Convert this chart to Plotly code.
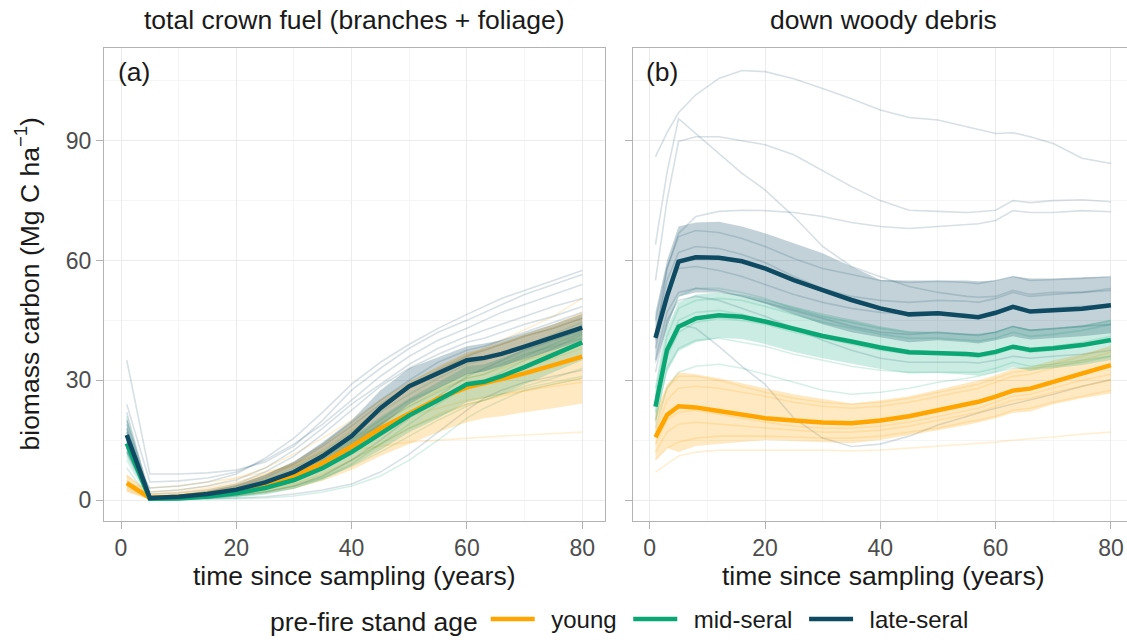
import plotly.graph_objects as go

# ---------------- data ----------------
XA = [1, 5, 10, 15, 20, 25, 30, 35, 40, 45, 50, 55, 60, 63, 66, 70, 75, 80]
XB = [1, 3, 5, 8, 12, 16, 20, 25, 30, 35, 40, 45, 50, 55, 57, 60, 63, 66, 70, 75, 80]

groups = ["young", "mid-seral", "late-seral"]
colors = {"young": "#FFA500", "mid-seral": "#0AA674", "late-seral": "#0E4A62"}
rgb = {"young": "255,165,0", "mid-seral": "10,166,116", "late-seral": "14,74,98"}
ribbon_alpha = {"young": 0.24, "mid-seral": 0.21, "late-seral": 0.25}

# panel (a): total crown fuel - group means and ribbons
young_a = [4.2, 0.5, 0.8, 1.5, 2.5, 4.0, 6.0, 9.3, 13.4, 17.9, 21.7, 25.4, 28.2, 29.2, 30.2, 31.7, 33.8, 35.9]
mid_a = [14.2, 0.3, 0.4, 0.9, 1.7, 3.0, 5.0, 8.0, 12.0, 16.6, 21.2, 25.0, 29.0, 29.6, 31.0, 33.3, 36.3, 39.5]
late_a = [16.3, 0.5, 0.8, 1.5, 2.6, 4.4, 7.0, 11.0, 16.0, 23.0, 28.5, 31.8, 35.0, 35.6, 36.6, 38.4, 40.7, 43.2]

young_a_lo = [2.0, 0.1, 0.3, 0.6, 1.0, 1.7, 2.8, 4.8, 7.5, 11.0, 14.0, 17.0, 19.5, 20.5, 21.0, 22.0, 23.0, 24.2]
young_a_hi = [6.5, 1.5, 1.8, 2.8, 4.2, 6.5, 9.5, 14.0, 19.5, 25.0, 29.5, 33.5, 37.0, 38.0, 39.5, 41.5, 44.0, 47.0]
mid_a_lo = [10.5, 0.1, 0.2, 0.4, 0.8, 1.5, 2.8, 5.0, 8.5, 12.5, 17.0, 20.5, 24.5, 25.5, 26.5, 29.0, 32.0, 35.0]
mid_a_hi = [18.0, 0.6, 0.8, 1.5, 2.7, 4.6, 7.3, 11.0, 15.6, 20.8, 25.5, 29.5, 33.5, 34.0, 35.5, 37.8, 40.6, 44.0]
late_a_lo = [12.0, 0.2, 0.4, 0.8, 1.5, 2.6, 4.5, 7.5, 12.0, 18.5, 24.0, 28.0, 31.5, 32.2, 33.5, 35.2, 37.5, 40.0]
late_a_hi = [20.5, 1.0, 1.3, 2.3, 3.8, 6.3, 9.5, 14.5, 20.0, 27.5, 33.0, 35.8, 38.5, 39.2, 40.0, 41.8, 44.0, 46.6]

# panel (a): individual stands
young_a_stands = [
    [4.0, 3.0, 3.5, 4.5, 5.5, 7.0, 8.5, 10.0, 12.5, 13.5, 14.5, 15.0, 15.5, 15.8, 16.0, 16.3, 16.6, 17.0],
    [5.0, 0.8, 1.2, 2.0, 3.5, 5.5, 8.5, 12.5, 17.5, 23.0, 28.0, 32.0, 36.0, 38.0, 40.0, 42.5, 46.0, 50.5],
    [3.0, 0.5, 0.8, 1.5, 2.5, 4.0, 6.5, 10.0, 14.5, 19.0, 23.5, 27.5, 30.5, 31.5, 33.0, 35.0, 37.0, 39.5],
    [4.5, 1.5, 2.0, 3.0, 4.5, 6.5, 9.0, 12.0, 15.5, 18.5, 21.0, 23.0, 25.0, 25.8, 26.5, 27.5, 28.5, 29.5],
    [3.5, 0.3, 0.5, 1.0, 2.0, 3.0, 5.0, 8.0, 12.0, 16.5, 21.0, 25.0, 28.0, 29.5, 31.0, 33.0, 35.5, 38.0],
    [2.5, 0.2, 0.4, 0.8, 1.5, 2.5, 4.0, 6.5, 10.0, 14.0, 18.0, 21.5, 24.0, 25.0, 26.0, 27.5, 29.0, 30.5],
    [6.0, 2.0, 2.5, 3.5, 5.5, 8.0, 11.5, 15.5, 20.0, 25.0, 29.5, 33.0, 36.5, 37.5, 39.0, 41.0, 43.0, 45.5],
]
mid_a_stands = [
    [14.0, 0.1, 0.2, 0.4, 0.8, 1.5, 3.0, 5.5, 9.0, 14.0, 19.0, 24.0, 28.5, 30.0, 32.0, 35.0, 38.0, 41.5],
    [19.0, 0.5, 0.8, 1.5, 3.0, 5.0, 8.0, 12.0, 17.0, 22.0, 26.5, 30.5, 34.0, 35.0, 36.5, 38.5, 41.5, 44.5],
    [10.0, 0.2, 0.3, 0.5, 1.0, 2.0, 3.5, 6.0, 10.0, 14.0, 18.0, 21.0, 24.0, 25.0, 26.5, 28.0, 29.5, 31.0],
    [12.0, 0.1, 0.1, 0.2, 0.3, 0.5, 1.0, 2.0, 3.5, 6.0, 10.0, 15.0, 20.5, 23.0, 25.0, 27.5, 29.0, 30.5],
    [16.0, 0.3, 0.5, 1.0, 2.0, 3.5, 6.0, 9.5, 14.0, 19.0, 23.5, 27.0, 30.5, 31.5, 33.5, 36.0, 39.0, 42.0],
    [8.0, 0.1, 0.2, 0.5, 1.0, 2.0, 3.5, 5.5, 8.5, 12.0, 16.0, 20.0, 23.5, 25.0, 26.5, 28.5, 30.5, 33.0],
    [21.0, 0.4, 0.6, 1.2, 2.5, 4.5, 7.0, 10.5, 15.0, 20.0, 25.0, 28.0, 31.5, 32.5, 34.0, 36.5, 38.5, 40.5],
]
late_a_stands = [
    [13.0, 3.0, 3.5, 4.5, 6.5, 10.5, 15.5, 22.0, 29.0, 34.5, 39.0, 43.0, 46.5, 48.5, 50.5, 52.5, 55.0, 57.5],
    [35.0, 6.5, 6.5, 6.8, 7.5, 9.5, 13.5, 20.0, 27.5, 33.0, 38.0, 42.0, 45.0, 47.0, 49.0, 51.5, 54.0, 56.5],
    [24.0, 4.5, 4.8, 5.5, 7.0, 10.0, 14.0, 19.0, 25.0, 31.0, 36.0, 40.0, 43.0, 45.0, 47.0, 49.0, 51.5, 54.0],
    [20.0, 2.0, 2.5, 3.5, 5.0, 8.0, 12.5, 18.0, 24.0, 29.0, 34.0, 38.0, 41.0, 42.5, 44.0, 46.0, 48.5, 50.5],
    [17.0, 1.0, 1.2, 2.0, 3.5, 6.0, 9.5, 14.0, 19.5, 25.0, 30.0, 34.5, 37.5, 38.5, 40.0, 42.0, 44.5, 47.0],
    [22.0, 0.5, 0.8, 1.5, 3.0, 5.5, 9.0, 13.5, 18.5, 24.0, 28.5, 32.5, 36.0, 37.5, 39.0, 41.0, 43.0, 45.5],
    [15.0, 0.2, 0.3, 0.6, 1.2, 2.0, 3.5, 6.0, 10.0, 15.0, 20.5, 26.0, 31.0, 33.0, 35.0, 37.5, 40.0, 42.5],
    [12.0, 0.1, 0.2, 0.3, 0.5, 0.8, 1.5, 2.5, 4.0, 7.0, 11.5, 17.0, 22.5, 25.5, 27.5, 29.5, 31.0, 32.5],
    [18.0, 1.5, 1.8, 2.5, 4.0, 7.0, 11.0, 16.5, 22.5, 28.5, 33.0, 36.5, 39.5, 40.5, 42.0, 44.0, 46.0, 48.5],
]

# panel (b): down woody debris - group means and ribbons
young_b = [15.7, 21.3, 23.5, 23.2, 22.3, 21.3, 20.5, 19.9, 19.4, 19.2, 19.9, 21.0, 22.5, 24.0, 24.6, 25.9, 27.4, 27.9, 29.6, 31.6, 33.8]
mid_b = [23.4, 37.6, 43.4, 45.5, 46.3, 45.9, 44.7, 42.8, 41.1, 39.7, 38.2, 37.0, 36.9, 36.6, 36.3, 37.1, 38.4, 37.6, 38.0, 38.8, 40.1]
late_b = [40.6, 51.0, 59.7, 60.8, 60.7, 59.8, 58.0, 55.1, 52.6, 50.1, 48.0, 46.5, 46.8, 46.1, 45.8, 46.9, 48.4, 47.2, 47.6, 47.9, 48.8]

young_b_lo = [10.0, 13.0, 12.0, 13.5, 14.0, 14.5, 15.0, 14.8, 14.5, 14.2, 15.0, 16.2, 17.5, 18.8, 19.4, 20.5, 21.8, 22.2, 24.0, 25.5, 26.7]
young_b_hi = [22.0, 29.0, 32.0, 31.5, 30.5, 29.2, 28.0, 26.5, 25.3, 24.2, 25.0, 26.0, 27.6, 29.3, 30.0, 31.3, 32.8, 33.4, 35.0, 36.6, 38.4]
mid_b_lo = [19.0, 32.0, 37.3, 39.5, 40.6, 40.3, 39.1, 37.1, 35.5, 34.2, 32.8, 31.7, 31.8, 31.4, 31.1, 32.0, 33.3, 32.4, 33.0, 33.8, 35.1]
mid_b_hi = [28.0, 43.0, 49.5, 51.5, 52.0, 51.5, 50.3, 48.5, 46.7, 45.2, 43.5, 42.3, 42.0, 41.8, 41.5, 42.2, 43.5, 42.8, 43.0, 43.8, 45.1]
late_b_lo = [34.0, 43.0, 51.0, 52.0, 52.0, 51.0, 49.2, 46.5, 44.0, 42.0, 40.8, 39.5, 40.0, 39.5, 39.2, 40.0, 41.0, 40.2, 40.5, 41.0, 41.8]
late_b_hi = [47.0, 60.0, 68.5, 69.5, 69.7, 68.5, 66.8, 64.3, 61.8, 58.5, 55.1, 55.0, 55.0, 55.0, 54.8, 55.0, 56.0, 55.5, 55.5, 55.8, 55.9]

# panel (b): individual stands
young_b_stands = [
    [7.0, 9.0, 11.0, 12.0, 12.5, 12.5, 12.5, 12.5, 12.5, 12.3, 12.5, 13.0, 13.5, 14.0, 14.2, 14.5, 15.0, 15.3, 15.8, 16.5, 17.0],
    [10.0, 13.0, 14.5, 15.5, 16.0, 16.0, 16.0, 15.8, 15.5, 15.5, 16.0, 17.0, 18.0, 19.5, 20.0, 21.0, 22.5, 23.0, 24.5, 26.0, 27.5],
    [14.0, 20.0, 22.0, 22.5, 21.5, 20.5, 19.5, 18.5, 18.0, 18.0, 18.5, 19.5, 21.0, 22.5, 23.0, 24.5, 26.0, 26.5, 28.0, 30.0, 31.5],
    [17.0, 25.0, 28.0, 28.5, 28.0, 27.0, 26.0, 24.5, 23.5, 23.0, 23.5, 24.5, 26.0, 27.5, 28.0, 29.5, 31.0, 31.5, 33.0, 35.0, 37.0],
    [12.0, 17.0, 19.0, 19.5, 19.0, 18.5, 18.0, 17.5, 17.0, 17.0, 17.5, 18.5, 20.0, 21.5, 22.0, 23.5, 25.0, 25.5, 27.0, 28.5, 30.0],
    [20.0, 28.0, 31.0, 31.0, 30.0, 28.5, 27.0, 25.5, 24.5, 24.0, 24.5, 25.5, 27.0, 28.5, 29.0, 30.5, 32.0, 32.5, 34.0, 36.0, 38.5],
]
mid_b_stands = [
    [22.0, 36.0, 42.0, 44.5, 45.5, 45.0, 44.0, 42.0, 40.5, 39.0, 37.5, 36.5, 36.5, 36.0, 35.8, 36.5, 38.0, 37.0, 37.5, 38.5, 40.0],
    [26.0, 41.0, 48.0, 50.0, 50.5, 50.0, 48.5, 46.5, 44.5, 43.0, 41.5, 40.5, 40.5, 40.0, 39.8, 40.5, 42.0, 41.0, 41.5, 42.5, 44.0],
    [20.0, 33.0, 38.0, 40.0, 40.5, 39.5, 38.5, 36.5, 35.0, 33.5, 32.5, 32.0, 32.0, 32.0, 32.0, 33.0, 34.5, 33.5, 34.0, 35.0, 36.0],
    [24.0, 38.0, 45.0, 47.0, 47.5, 46.5, 45.0, 43.0, 41.0, 39.5, 38.5, 37.5, 37.0, 36.8, 36.5, 37.5, 38.5, 38.0, 38.5, 39.5, 41.0],
    [18.0, 28.0, 32.0, 33.5, 34.0, 33.0, 31.5, 29.5, 27.5, 26.5, 27.0, 28.0, 29.5, 30.5, 31.0, 32.0, 33.0, 33.0, 33.5, 34.5, 36.0],
    [28.0, 44.0, 51.0, 53.0, 53.0, 52.0, 50.5, 48.0, 46.0, 44.5, 43.0, 42.0, 42.0, 41.5, 41.5, 42.0, 43.5, 42.5, 43.0, 43.5, 45.0],
]
late_b_stands = [
    [86.0, 92.0, 97.0, 101.5, 105.6, 107.6, 107.3, 105.5, 103.1, 100.5, 97.7, 95.8, 95.2, 93.5, 93.0, 91.8, 92.0, 91.0, 89.3, 85.6, 84.3],
    [64.0, 82.0, 95.5, 91.8, 86.8, 81.8, 77.7, 71.0, 63.5, 58.5, 55.9, 53.5, 52.0, 51.0, 50.8, 51.0, 52.5, 51.5, 52.0, 52.0, 53.0],
    [55.0, 75.0, 89.8, 91.0, 91.0, 90.0, 89.0, 86.5, 82.5, 78.5, 75.0, 72.6, 72.3, 72.0, 72.2, 72.6, 75.0, 74.5, 75.0, 75.2, 74.7],
    [40.0, 58.0, 66.8, 71.0, 72.3, 72.6, 72.5, 72.0, 71.0, 69.5, 68.5, 68.0, 68.5, 69.0, 69.2, 70.0, 72.5, 72.0, 72.0, 72.5, 72.2],
    [25.0, 38.0, 44.0, 43.0, 38.5, 33.5, 29.0, 20.5, 15.5, 13.4, 14.0, 16.0, 18.8, 21.0, 21.8, 23.0, 24.0, 25.0, 26.5, 28.5, 30.2],
    [45.0, 58.0, 66.0, 67.5, 67.0, 65.5, 63.5, 60.5, 58.0, 56.5, 55.0, 54.5, 54.8, 54.5, 54.2, 55.0, 56.0, 55.0, 55.2, 55.5, 56.0],
    [38.0, 52.0, 58.0, 58.5, 57.5, 56.0, 54.0, 51.5, 49.5, 48.0, 47.0, 46.5, 47.0, 46.5, 46.0, 47.0, 48.5, 47.5, 48.0, 48.5, 49.0],
    [35.0, 47.0, 52.0, 53.0, 52.5, 51.0, 49.5, 47.5, 45.5, 43.5, 42.0, 41.5, 42.0, 41.5, 41.2, 42.0, 43.5, 42.5, 43.0, 43.5, 44.0],
    [42.0, 55.0, 62.0, 63.5, 63.0, 61.5, 59.5, 56.0, 53.0, 51.0, 50.0, 49.5, 50.0, 49.8, 49.5, 50.5, 52.0, 51.0, 51.5, 52.0, 52.5],
    [32.0, 45.0, 50.0, 51.0, 50.0, 48.0, 46.0, 43.0, 40.0, 37.5, 35.5, 34.5, 34.5, 34.5, 34.3, 35.0, 36.0, 35.5, 36.0, 36.5, 37.5],
]

x_ticks = [0, 20, 40, 60, 80]
y_ticks = [0, 30, 60, 90]
strip_titles = ["total crown fuel (branches + foliage)", "down woody debris"]
panel_tags = ["(a)", "(b)"]
x_title = "time since sampling (years)"
y_title = "biomass carbon (Mg C ha<sup>\u22121</sup>)"
legend_title = "pre-fire stand age"

# ---------------- figure ----------------
W, H = 1127, 642
FONT = "Liberation Sans, Arial, sans-serif"
TXT = 26.5
NB = "\u00a0"
fig = go.Figure()

panels = [
    ("x", "y", XA,
     {"young": young_a_stands, "mid-seral": mid_a_stands, "late-seral": late_a_stands},
     {"young": (young_a_lo, young_a_hi), "mid-seral": (mid_a_lo, mid_a_hi), "late-seral": (late_a_lo, late_a_hi)},
     {"young": young_a, "mid-seral": mid_a, "late-seral": late_a}),
    ("x2", "y2", XB,
     {"young": young_b_stands, "mid-seral": mid_b_stands, "late-seral": late_b_stands},
     {"young": (young_b_lo, young_b_hi), "mid-seral": (mid_b_lo, mid_b_hi), "late-seral": (late_b_lo, late_b_hi)},
     {"young": young_b, "mid-seral": mid_b, "late-seral": late_b}),
]

for pi, (xa, ya, X, stands, ribbons, means) in enumerate(panels):
    for g in groups:
        for s in stands[g]:
            fig.add_trace(go.Scatter(x=X, y=s, mode="lines", xaxis=xa, yaxis=ya,
                                     line=dict(color=f"rgba({rgb[g]},0.17)", width=1.6),
                                     showlegend=False, hoverinfo="skip"))
    for g in groups:
        lo, hi = ribbons[g]
        fig.add_trace(go.Scatter(x=list(X) + list(X)[::-1], y=list(hi) + list(lo)[::-1],
                                 mode="lines", fill="toself", xaxis=xa, yaxis=ya,
                                 fillcolor=f"rgba({rgb[g]},{ribbon_alpha[g]})", line=dict(width=0),
                                 showlegend=False, hoverinfo="skip"))
    for g in groups:
        fig.add_trace(go.Scatter(x=X, y=means[g], mode="lines", xaxis=xa, yaxis=ya,
                                 line=dict(color=colors[g], width=4.5),
                                 name=NB + "\u2009" + g + NB, showlegend=(pi == 0)))

# geometry (pixels)
left_a, right_a = 104, 605
left_b = 632.7
top_px, bot_px = 48.3, 520.7
px_per_yr = (right_a - left_a) / 86.9
xb_max = -2.95 + (W - left_b) / px_per_yr

def axis_style(minor_vals):
    return dict(showgrid=True, gridcolor="#EBEBEB", gridwidth=1,
                minor=dict(tickvals=minor_vals, showgrid=True, gridcolor="#F5F5F5", gridwidth=0.8),
                showline=True, linecolor="#B3B3B3", linewidth=1,
                ticks="outside", ticklen=7, tickcolor="#B3B3B3", tickwidth=1,
                tickfont=dict(family=FONT, size=23, color="#4D4D4D"),
                zeroline=False, fixedrange=True, automargin=False)

fig.update_layout(
    width=W, height=H, autosize=False,
    margin=dict(l=0, r=0, t=0, b=0, pad=0),
    paper_bgcolor="white", plot_bgcolor="white",
    xaxis=dict(domain=[left_a / W, right_a / W], range=[-2.95, 83.95],
               tickvals=x_ticks, mirror=True, anchor="y", **axis_style([10, 30, 50, 70])),
    xaxis2=dict(domain=[left_b / W, 1.0], range=[-2.95, xb_max],
                tickvals=x_ticks, mirror=True, anchor="y2", **axis_style([10, 30, 50, 70])),
    yaxis=dict(domain=[1 - bot_px / H, 1 - top_px / H], range=[-5.185, 113.15],
               tickvals=y_ticks, mirror=True, anchor="x", **axis_style([15, 45, 75, 105])),
    yaxis2=dict(domain=[1 - bot_px / H, 1 - top_px / H], range=[-5.185, 113.15],
                tickvals=y_ticks, mirror=False, anchor="x2", showticklabels=False,
                **axis_style([15, 45, 75, 105])),
    legend=dict(orientation="h", x=624 / W, xanchor="center", y=0, yanchor="bottom",
                font=dict(family=FONT, size=24, color="#1A1A1A"),
                title=dict(text=legend_title, font=dict(family=FONT, size=TXT, color="#1A1A1A"), side="left"),
                bgcolor="rgba(0,0,0,0)", itemwidth=44, tracegroupgap=0),
    font=dict(family=FONT),
)

ann = []
centers = [(left_a + right_a) / 2, (left_b + left_b + (right_a - left_a)) / 2]
for i in range(2):
    ann.append(dict(text=strip_titles[i], x=centers[i] / W, y=1 - 20 / H, xref="paper", yref="paper",
                    xanchor="center", yanchor="middle", showarrow=False,
                    font=dict(family=FONT, size=TXT, color="#1A1A1A")))
    ann.append(dict(text=x_title, x=centers[i] / W, y=1 - 576 / H, xref="paper", yref="paper",
                    xanchor="center", yanchor="middle", showarrow=False,
                    font=dict(family=FONT, size=TXT, color="#1A1A1A")))
ann.append(dict(text=panel_tags[0], x=116 / W, y=1 - 72 / H, xref="paper", yref="paper",
                xanchor="left", yanchor="middle", showarrow=False,
                font=dict(family=FONT, size=TXT, color="#1A1A1A")))
ann.append(dict(text=panel_tags[1], x=644 / W, y=1 - 72 / H, xref="paper", yref="paper",
                xanchor="left", yanchor="middle", showarrow=False,
                font=dict(family=FONT, size=TXT, color="#1A1A1A")))
ann.append(dict(text=y_title, x=27 / W, y=1 - ((top_px + bot_px) / 2) / H, xref="paper", yref="paper",
                xanchor="center", yanchor="middle", textangle=-90, showarrow=False,
                font=dict(family=FONT, size=TXT, color="#1A1A1A")))
fig.update_layout(annotations=ann)

fig.write_html("out.html")
